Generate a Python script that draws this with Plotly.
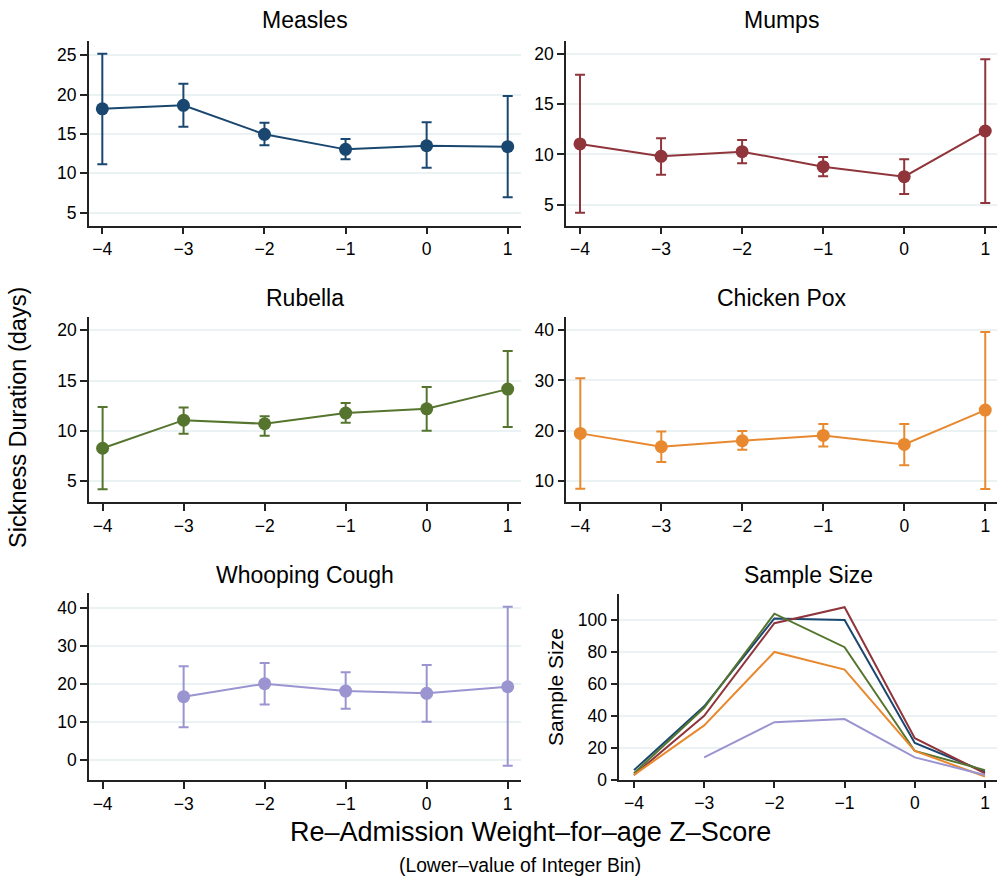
import plotly.graph_objects as go

z_bins = [-4, -3, -2, -1, 0, 1]

measles_mean = [18.2, 18.65, 14.96, 13.05, 13.51, 13.39]
measles_lo = [11.15, 15.93, 13.56, 11.79, 10.72, 6.95]
measles_hi = [25.2, 21.4, 16.44, 14.37, 16.49, 19.83]

mumps_mean = [11.04, 9.81, 10.27, 8.78, 7.78, 12.33]
mumps_lo = [4.2, 7.98, 9.11, 7.82, 6.06, 5.16]
mumps_hi = [17.94, 11.6, 11.43, 9.74, 9.51, 19.47]

rubella_mean = [8.26, 11.06, 10.70, 11.76, 12.19, 14.15]
rubella_lo = [4.17, 9.7, 9.5, 10.79, 10.0, 10.38]
rubella_hi = [12.37, 12.33, 11.46, 12.76, 14.36, 17.94]

pox_mean = [19.44, 16.77, 17.97, 19.04, 17.24, 24.09]
pox_lo = [8.4, 13.74, 16.17, 16.8, 13.1, 8.34]
pox_hi = [30.42, 19.84, 19.9, 21.3, 21.3, 39.66]

whoop_mean = [None, 16.58, 20.0, 18.07, 17.46, 19.21]
whoop_lo = [None, 8.53, 14.5, 13.4, 10.0, -1.58]
whoop_hi = [None, 24.6, 25.45, 23.0, 24.9, 40.26]

n_measles = [6, 46, 101, 100, 23, 5]
n_mumps = [3, 40, 98, 108, 26, 4]
n_rubella = [4, 45, 104, 83, 18, 6]
n_pox = [3, 34, 80, 69, 18, 2]
n_whoop = [None, 14, 36, 38, 14, 3]

titles = ["Measles", "Mumps", "Rubella", "Chicken Pox", "Whooping Cough", "Sample Size"]
colors = ["#1a476f", "#90353b", "#55752f", "#e8892f", "#9a94d0"]

W, H = 997, 879
H_FIG = 889
FONT = "Liberation Sans, Arial, Helvetica, sans-serif"

# panel geometry in pixels: (x0, x1, ytop, ybottom)
panels = [
    (88.7, 521, 40.7, 225.7),
    (566, 997, 40.7, 225.7),
    (89, 521, 316.7, 502.3),
    (566.3, 997, 317.3, 502.3),
    (89, 521, 593.3, 780),
    (619.3, 997, 594, 779.7),
]
xranges = [[-4.168, 1.164], [-4.173, 1.145], [-4.168, 1.164], [-4.173, 1.145], [-4.168, 1.164], [-4.209, 1.171]]
yranges = [[3.35, 26.86], [2.9, 21.32], [2.88, 21.36], [5.69, 42.6], [-5.34, 43.8], [0, 116.3]]
yticks = [[5, 10, 15, 20, 25], [5, 10, 15, 20], [5, 10, 15, 20], [10, 20, 30, 40], [0, 10, 20, 30, 40], [0, 20, 40, 60, 80, 100]]
title_y = [20, 20, 298, 298, 575, 575]

fig = go.Figure()

series = [
    (measles_mean, measles_lo, measles_hi),
    (mumps_mean, mumps_lo, mumps_hi),
    (rubella_mean, rubella_lo, rubella_hi),
    (pox_mean, pox_lo, pox_hi),
    (whoop_mean, whoop_lo, whoop_hi),
]

for i, (m, lo, hi) in enumerate(series):
    sfx = "" if i == 0 else str(i + 1)
    up = [None if v is None else h - v for v, h in zip(m, hi)]
    dn = [None if v is None else v - l for v, l in zip(m, lo)]
    fig.add_trace(go.Scatter(
        x=z_bins, y=m, mode="lines+markers",
        line=dict(color=colors[i], width=2),
        marker=dict(color=colors[i], size=13),
        error_y=dict(type="data", symmetric=False, array=up, arrayminus=dn,
                     color=colors[i], thickness=2, width=5),
        xaxis="x" + sfx, yaxis="y" + sfx, showlegend=False,
    ))

for i, n in enumerate([n_measles, n_mumps, n_rubella, n_pox, n_whoop]):
    fig.add_trace(go.Scatter(
        x=z_bins, y=n, mode="lines", line=dict(color=colors[i], width=2),
        xaxis="x6", yaxis="y6", showlegend=False,
    ))

layout = dict(
    width=W, height=H_FIG, autosize=False, margin=dict(l=0, r=0, t=0, b=0, pad=0),
    paper_bgcolor="white", plot_bgcolor="white",
    font=dict(family=FONT, color="black", size=17),
)

annotations = []
for i, (x0, x1, yt, yb) in enumerate(panels):
    sfx = "" if i == 0 else str(i + 1)
    layout["xaxis" + sfx] = dict(
        domain=[x0 / W, x1 / W], range=xranges[i], anchor="y" + sfx,
        tickvals=z_bins, ticks="outside", ticklen=7, tickwidth=1.5, tickcolor="#222",
        showline=True, linecolor="#222", linewidth=1.5, showgrid=False, zeroline=False,
        tickfont=dict(size=17.5, family=FONT),
    )
    layout["yaxis" + sfx] = dict(
        domain=[1 - yb / H, 1 - yt / H], range=yranges[i], anchor="x" + sfx,
        tickvals=yticks[i], ticks="outside", ticklen=7, tickwidth=1.5, tickcolor="#222",
        showline=True, linecolor="#222", linewidth=1.5, showgrid=True,
        gridcolor="#eaf2f3", gridwidth=2, zeroline=False,
        tickfont=dict(size=17.5, family=FONT),
    )
    annotations.append(dict(
        text=titles[i], x=(x0 + x1) / 2 / W, y=1 - title_y[i] / H,
        xref="paper", yref="paper", xanchor="center", yanchor="middle",
        showarrow=False, font=dict(size=23, family=FONT),
    ))

annotations.append(dict(text="Sample Size", x=555 / W, y=1 - 687 / H,
                        xref="paper", yref="paper", xanchor="center", yanchor="middle",
                        textangle=-90, showarrow=False, font=dict(size=21, family=FONT)))
annotations.append(dict(text="Sickness Duration (days)", x=18 / W, y=1 - 418 / H,
                        xref="paper", yref="paper", xanchor="center", yanchor="middle",
                        textangle=-90, showarrow=False, font=dict(size=23.5, family=FONT)))
annotations.append(dict(text="Re–Admission Weight–for–age Z–Score", x=530 / W, y=1 - 832 / H,
                        xref="paper", yref="paper", xanchor="center", yanchor="middle",
                        showarrow=False, font=dict(size=27, family=FONT)))
annotations.append(dict(text="(Lower–value of Integer Bin)", x=520 / W, y=1 - 865 / H,
                        xref="paper", yref="paper", xanchor="center", yanchor="middle",
                        showarrow=False, font=dict(size=19.3, family=FONT)))
layout["annotations"] = annotations

fig.update_layout(**layout)
fig.write_html("out.html",
               config={"displayModeBar": False, "responsive": False},
               post_script="document.body.style.margin='0';document.body.style.overflow='hidden';")
